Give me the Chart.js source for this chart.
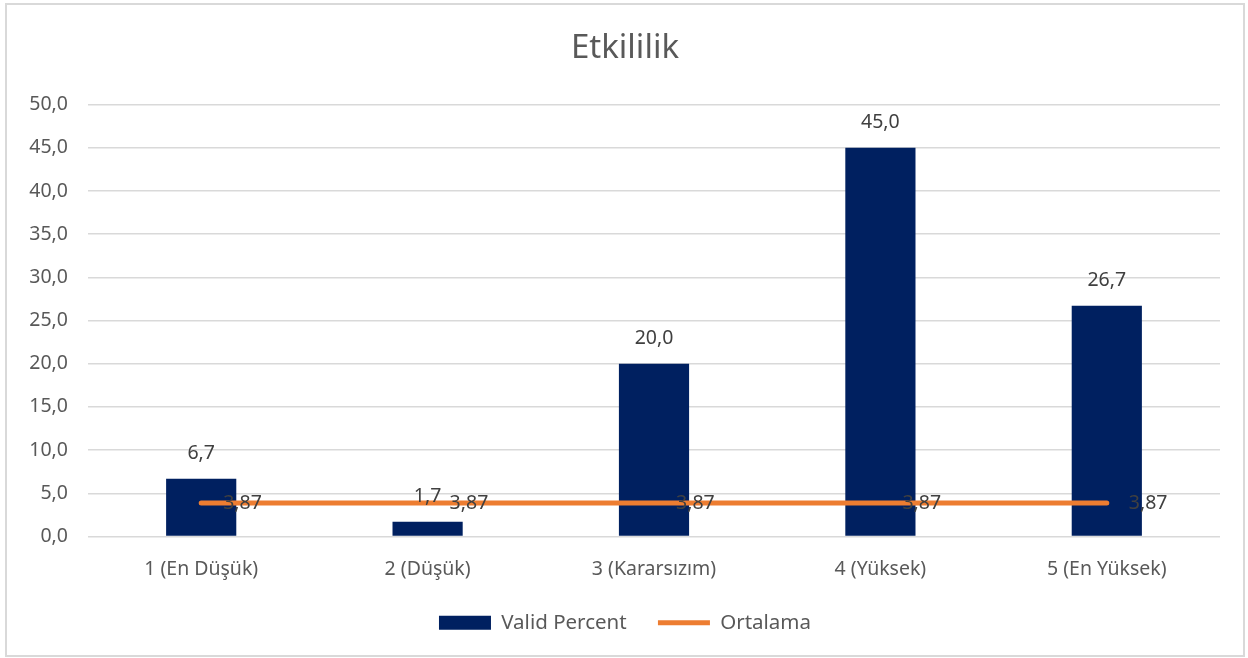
<!DOCTYPE html>
<html>
<head>
<meta charset="utf-8">
<script src="https://cdn.jsdelivr.net/npm/chart.js@4"></script>
<style>
  body { margin: 0; background: #fff; }
  #box { position: absolute; left: 5px; top: 3px; width: 1240px; height: 654px; border: 2px solid #d9d9d9; box-sizing: border-box; }
  #wrap { position: relative; width: 1236px; height: 650px; }
</style>
</head>
<body>
<div id="box"><div id="wrap"><canvas id="myChart"></canvas></div></div>
<script>
// veriler
var categories = ['1 (En Düşük)', '2 (Düşük)', '3 (Kararsızım)', '4 (Yüksek)', '5 (En Yüksek)'];
var validPercent = [6.7, 1.7, 20.0, 45.0, 26.7];
var ortalama = [3.87, 3.87, 3.87, 3.87, 3.87];
var yTicks = [0, 5, 10, 15, 20, 25, 30, 35, 40, 45, 50];

var FONT = '"Noto Sans", "Open Sans", sans-serif';
var TEXT = '#595959';

function virgul(v, d) {
  return v.toFixed(d).replace('.', ',');
}

// etiketler (datalabels eklentisi yok)
var labelPlugin = {
  id: 'degerler',
  afterDatasetsDraw: function(chart) {
    var ctx = chart.ctx;
    ctx.save();
    ctx.font = '19.5px ' + FONT;
    ctx.fillStyle = '#404040';
    ctx.textBaseline = 'middle';
    chart.data.datasets.forEach(function(ds, i) {
      var meta = chart.getDatasetMeta(i);
      meta.data.forEach(function(el, j) {
        var v = ds.data[j];
        if (ds.type == 'line') {
          ctx.textAlign = 'left';
          ctx.fillText(virgul(v, 2), el.x + 22, el.y);
        } else {
          ctx.textAlign = 'center';
          ctx.fillText(virgul(v, 1), el.x, el.y - 25);
        }
      });
    });
    ctx.restore();
  }
};

var ctx = document.getElementById('myChart').getContext('2d');
var myChart = new Chart(ctx, {
  data: {
    labels: categories,
    datasets: [{
      type: 'line',
      label: 'Ortalama',
      data: ortalama,
      borderColor: '#ED7D31',
      backgroundColor: '#ED7D31',
      borderWidth: 5,
      borderCapStyle: 'round',
      pointRadius: 0,
      pointStyle: 'line',
      order: 1
    }, {
      type: 'bar',
      label: 'Valid Percent',
      data: validPercent,
      backgroundColor: '#002060',
      borderWidth: 0,
      barPercentage: 0.31,
      categoryPercentage: 1,
      pointStyle: 'rect',
      order: 2
    }]
  },
  options: {
    responsive: true,
    maintainAspectRatio: false,
    animation: false,
    layout: { padding: { left: 0, right: 0, top: 0, bottom: 12 } },
    plugins: {
      title: {
        display: true,
        text: 'Etkililik',
        color: TEXT,
        font: { family: FONT, size: 33, weight: 'normal' },
        padding: { top: 24, bottom: 36 }
      },
      legend: {
        position: 'bottom',
        reverse: true,
        labels: {
          color: TEXT,
          font: { family: FONT, size: 20.5 },
          usePointStyle: true,
          pointStyleWidth: 52,
          boxHeight: 14,
          padding: 10,
          generateLabels: function(chart) {
            var items = Chart.defaults.plugins.legend.labels.generateLabels(chart);
            items.forEach(function(it) {
              if (it.text == 'Valid Percent') it.text = it.text + '    ';
            });
            return items;
          }
        }
      },
      tooltip: { enabled: false }
    },
    scales: {
      x: {
        grid: { display: false },
        border: { display: false },
        ticks: { color: TEXT, font: { family: FONT, size: 19.5 }, padding: 13 },
        afterFit: function(s) { s.height = 66; }
      },
      y: {
        min: 0,
        max: 50,
        afterBuildTicks: function(s) { s.ticks = yTicks.map(function(v) { return { value: v }; }); },
        grid: { color: '#d9d9d9', lineWidth: 1.5, drawTicks: false },
        border: { display: false },
        ticks: {
          color: TEXT,
          font: { family: FONT, size: 19.5 },
          padding: 20,
          callback: function(v) { return virgul(v, 1); }
        },
        afterFit: function(s) { s.width = 81; }
      },
      // sağ boşluk için görünmez eksen
      bos: {
        position: 'right',
        display: true,
        grid: { display: false },
        border: { display: false },
        ticks: { display: false },
        afterFit: function(s) { s.width = 23; }
      }
    }
  },
  plugins: [labelPlugin]
});
</script>
</body>
</html>
